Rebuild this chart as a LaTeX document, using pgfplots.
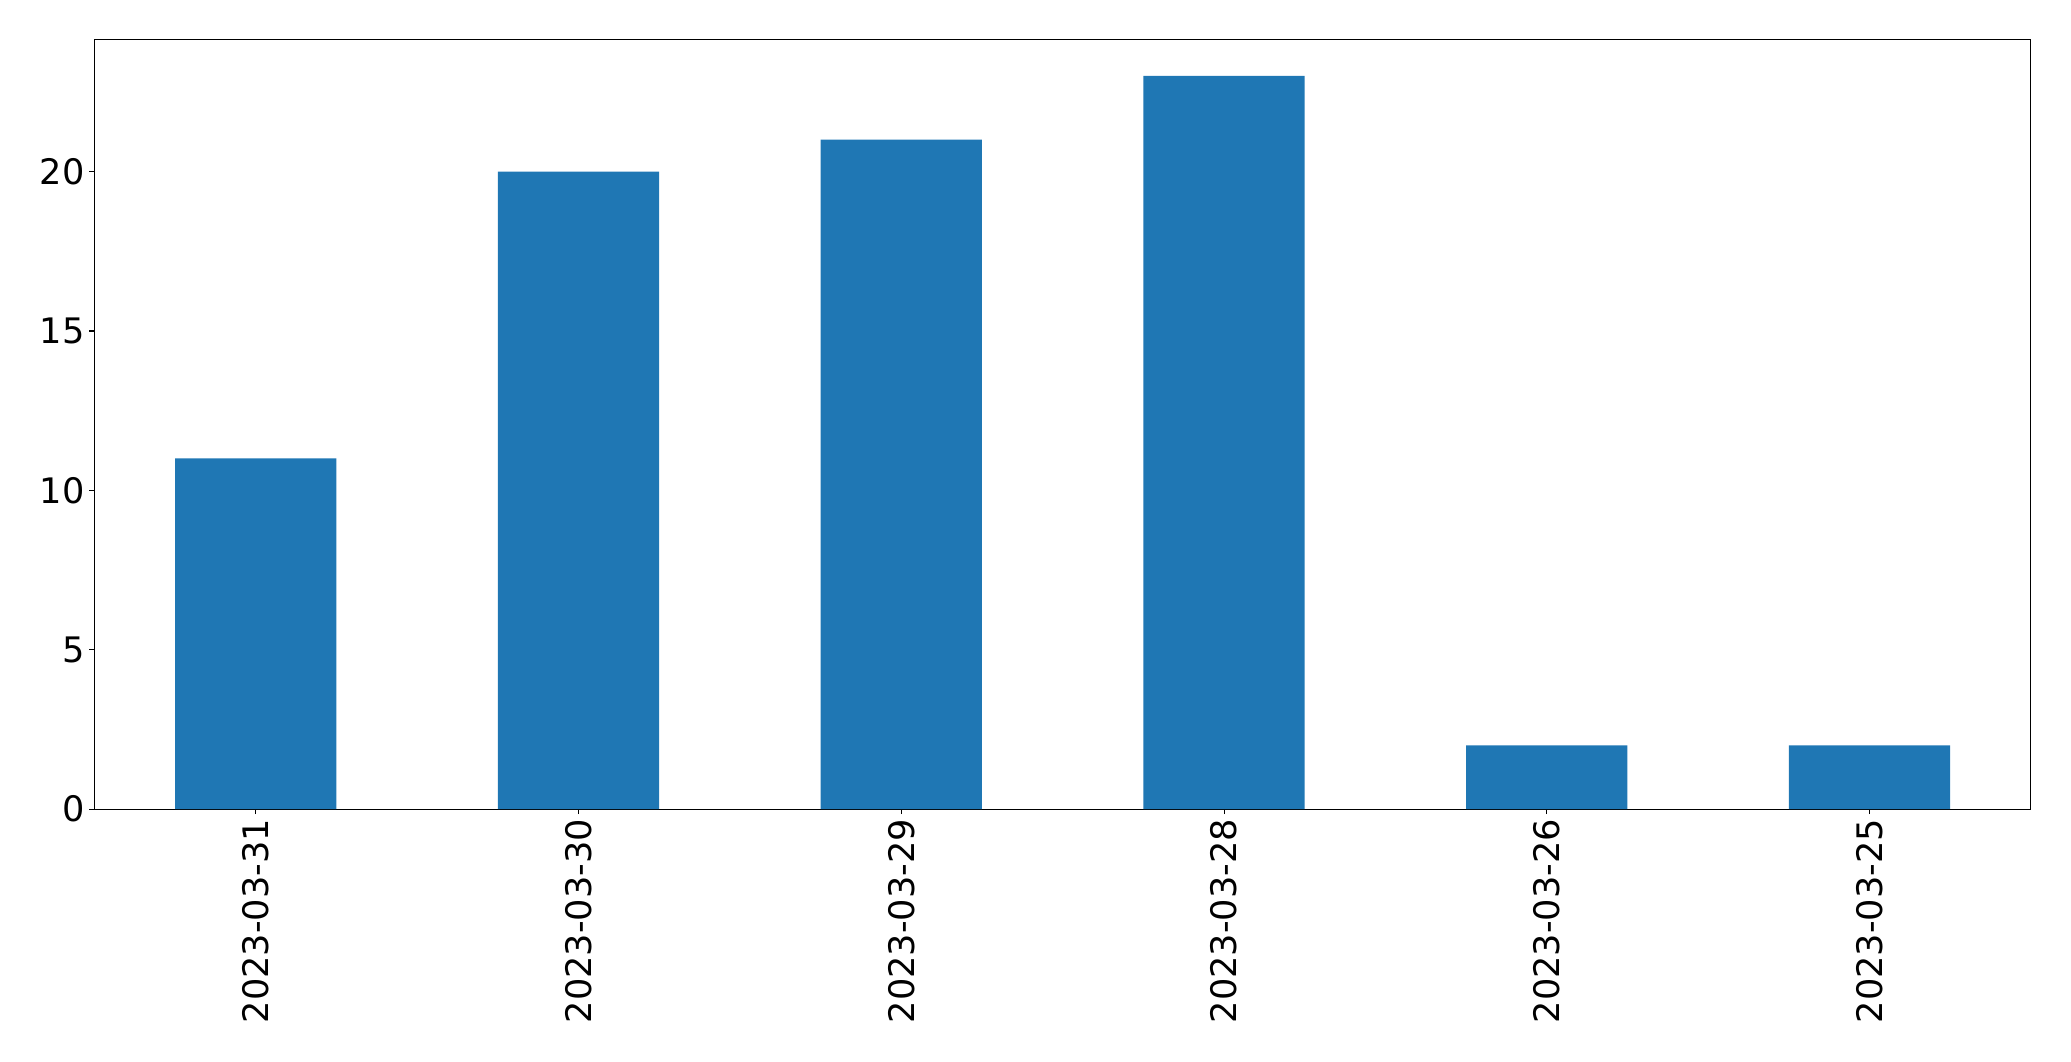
\documentclass[border=0pt]{standalone}
\usepackage{pgfplots}
\pgfplotsset{compat=1.18}
\usepackage{fontspec}
\setmainfont{DejaVu Sans}
\definecolor{barblue}{HTML}{1F77B4}

\begin{document}
\begin{tikzpicture}
  \useasboundingbox (-68pt,-181.4pt) rectangle (1423.4pt,582.7pt);
  \begin{axis}[
      at={(0,0)}, anchor=south west,
      scale only axis,
      width=1394.6pt, height=554.4pt,
      xmin=-0.5, xmax=5.5,
      ymin=0, ymax=24.15,
      ytick={0,5,10,15,20},
      xtick={0,1,2,3,4,5},
      xticklabels={2023-03-31,2023-03-30,2023-03-29,2023-03-28,2023-03-26,2023-03-25},
      xticklabel style={rotate=90, anchor=east},
      tick align=outside,
      tick pos=left,
      major tick length=3.6pt,
      tick style={black, line width=0.8pt},
      axis line style={line width=0.8pt},
      font=\fontsize{25.3pt}{30pt}\selectfont,
      /pgf/number format/assume math mode=true,
      tick label style={font=\fontsize{25.3pt}{30pt}\selectfont},
  ]
  \addplot[ybar, bar width=0.5, bar shift=0pt, fill=barblue, draw=none]
      coordinates {
        (0,11)(1,20)(2,21)(3,23)(4,2)(5,2)
      };
  \end{axis}
\end{tikzpicture}
\end{document}
